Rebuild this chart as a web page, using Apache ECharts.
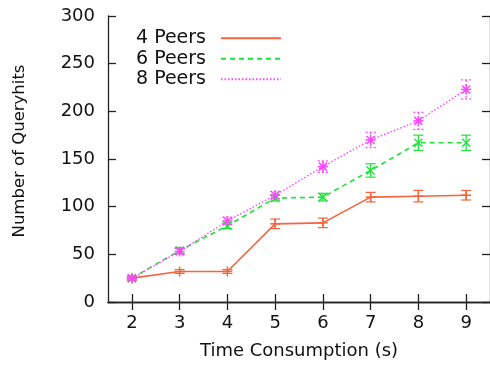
<!DOCTYPE html>
<html>
<head>
<meta charset="utf-8">
<title>Queryhits vs time</title>
<script src="https://cdn.jsdelivr.net/npm/echarts@6/dist/echarts.min.js"></script>
<style>
  html, body { margin: 0; padding: 0; background: #fff; }
  #chart { width: 490px; height: 367px; }
</style>
</head>
<body>
<div id="chart"></div>
<script>
// x categories (time consumption, s)
const timeCats = ["2", "3", "4", "5", "6", "7", "8", "9"]
// y tick range
const yTicks = [0, 50, 100, 150, 200, 250, 300]

// series values, with error half-widths
const peers4 = [25, 32, 32, 82, 83, 110, 111, 112]
const peers4Err = [2, 2, 2, 5, 5, 5, 6, 5]
const peers6 = [25, 54, 80, 109, 110, 138, 167, 167]
const peers6Err = [2, 3, 3, 3, 4, 7, 8, 8]
const peers8 = [25, 53, 85, 112, 142, 170, 190, 223]
const peers8Err = [2, 3, 4, 4, 6, 8, 9, 10]

const FONT = "DejaVu Sans"
const red = "#f5643c"
const green = "#1ee23a"
const magenta = "#ff44ff"

function errData(vals, errs) {
  return vals.map((v, i) => [i, v, errs[i]])
}

// draws gnuplot-style error bar + point marker
function errRenderer(color, marker, dash) {
  return function (params, api) {
    const x = api.value(0)
    const y = api.value(1)
    const e = api.value(2)
    const c = api.coord([x, y])
    const t = api.coord([x, y + e])
    const b = api.coord([x, y - e])
    const st = { stroke: color, lineWidth: 1.2, lineDash: dash }
    const mk = { stroke: color, lineWidth: 1.5 }
    const kids = [
      { type: "line", shape: { x1: c[0], y1: t[1], x2: c[0], y2: b[1] }, style: st },
      { type: "line", shape: { x1: c[0] - 5, y1: t[1], x2: c[0] + 5, y2: t[1] }, style: st },
      { type: "line", shape: { x1: c[0] - 5, y1: b[1], x2: c[0] + 5, y2: b[1] }, style: st }
    ]
    if (marker === "plus" || marker === "star") {
      kids.push({ type: "line", shape: { x1: c[0] - 5, y1: c[1], x2: c[0] + 5, y2: c[1] }, style: mk })
      kids.push({ type: "line", shape: { x1: c[0], y1: c[1] - 5, x2: c[0], y2: c[1] + 5 }, style: mk })
    }
    if (marker === "cross" || marker === "star") {
      kids.push({ type: "line", shape: { x1: c[0] - 4, y1: c[1] - 4, x2: c[0] + 4, y2: c[1] + 4 }, style: mk })
      kids.push({ type: "line", shape: { x1: c[0] - 4, y1: c[1] + 4, x2: c[0] + 4, y2: c[1] - 4 }, style: mk })
    }
    return { type: "group", children: kids }
  }
}

const axisLine = { show: true, lineStyle: { color: "#222", width: 1.3 } }
const tick = { show: true, inside: true, length: 8, lineStyle: { color: "#222", width: 1.3 } }

const option = {
  backgroundColor: "#fff",
  animation: false,
  textStyle: { fontFamily: FONT },
  grid: { left: 108, right: -7, top: 16, bottom: 65 },
  legend: {
    orient: "vertical",
    left: 131,
    top: 23,
    align: "right",
    itemWidth: 60,
    itemHeight: 14,
    itemGap: 0,
    itemStyle: { opacity: 0 },
    data: ["4 Peers", "6 Peers", "8 Peers"],
    textStyle: { fontFamily: FONT, fontSize: 19, lineHeight: 20.5, color: "#111", padding: [0, 10, 0, 0] }
  },
  xAxis: [
    {
      type: "category",
      data: timeCats,
      boundaryGap: true,
      position: "bottom",
      axisLine: axisLine,
      axisTick: Object.assign({ alignWithLabel: true }, tick),
      axisLabel: { fontFamily: FONT, fontSize: 18, color: "#111", margin: 12 },
      splitLine: { show: false },
      name: "Time Consumption (s)",
      nameLocation: "middle",
      nameGap: 40,
      nameTextStyle: { fontFamily: FONT, fontSize: 18, color: "#111" }
    },
    {
      type: "category",
      data: timeCats,
      boundaryGap: true,
      position: "top",
      axisLine: axisLine,
      axisTick: Object.assign({ alignWithLabel: true }, tick),
      axisLabel: { show: false },
      splitLine: { show: false }
    }
  ],
  yAxis: [
    {
      type: "value",
      min: yTicks[0],
      max: yTicks[yTicks.length - 1],
      interval: 50,
      position: "left",
      axisLine: axisLine,
      axisTick: tick,
      axisLabel: { fontFamily: FONT, fontSize: 18, color: "#111", margin: 13 },
      splitLine: { show: false },
      name: "Number of Queryhits",
      nameLocation: "middle",
      nameGap: 80,
      nameTextStyle: { fontFamily: FONT, fontSize: 16.5, color: "#111", padding: [0, 0, 0, 16] }
    },
    {
      type: "value",
      min: yTicks[0],
      max: yTicks[yTicks.length - 1],
      interval: 50,
      position: "right",
      axisLine: axisLine,
      axisTick: tick,
      axisLabel: { show: false },
      splitLine: { show: false }
    }
  ],
  series: [
    {
      name: "4 Peers",
      type: "line",
      data: peers4,
      symbol: "none",
      itemStyle: { color: red },
      lineStyle: { color: red, width: 1.6, type: "solid" },
      z: 3
    },
    {
      name: "6 Peers",
      type: "line",
      data: peers6,
      symbol: "none",
      itemStyle: { color: green },
      lineStyle: { color: green, width: 1.6, type: [5, 4] },
      z: 3
    },
    {
      name: "8 Peers",
      type: "line",
      data: peers8,
      symbol: "none",
      itemStyle: { color: magenta },
      lineStyle: { color: magenta, width: 1.4, type: [1.5, 2] },
      z: 3
    },
    {
      type: "custom",
      renderItem: errRenderer(red, "plus", null),
      data: errData(peers4, peers4Err),
      encode: { x: 0, y: 1 },
      z: 4
    },
    {
      type: "custom",
      renderItem: errRenderer(green, "cross", null),
      data: errData(peers6, peers6Err),
      encode: { x: 0, y: 1 },
      z: 4
    },
    {
      type: "custom",
      renderItem: errRenderer(magenta, "star", [2, 2]),
      data: errData(peers8, peers8Err),
      encode: { x: 0, y: 1 },
      z: 5
    }
  ]
}

const chart = echarts.init(document.getElementById("chart"))
chart.setOption(option)
</script>
</body>
</html>
